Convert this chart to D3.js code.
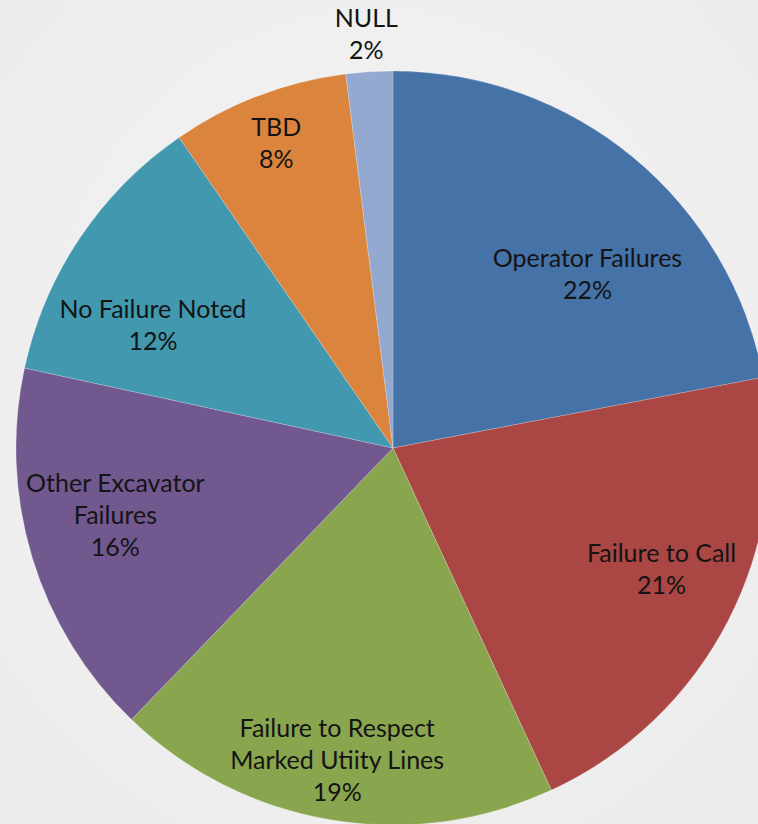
<!DOCTYPE html>
<html>
<head>
<meta charset="utf-8">
<script src="https://cdn.jsdelivr.net/npm/d3@7"></script>
<style>
  body { margin: 0; background: #efefef; }
  svg { display: block; }
</style>
</head>
<body>
<svg id="chart"></svg>
<script>
const WIDTH = 758;
const HEIGHT = 824;

// slices, clockwise from 12 o'clock
const categories = [
  "Operator Failures",
  "Failure to Call",
  "Failure to Respect Marked Utiity Lines",
  "Other Excavator Failures",
  "No Failure Noted",
  "TBD",
  "NULL"
];
const shares = [22.0, 21.1, 19.1, 16.2, 12.0, 7.6, 2.0];

// how each label is broken into lines
const labelLines = [
  ["Operator Failures"],
  ["Failure to Call"],
  ["Failure to Respect", "Marked Utiity Lines"],
  ["Other Excavator", "Failures"],
  ["No Failure Noted"],
  ["TBD"],
  ["NULL"]
];

const colors = ["#4572a7", "#aa4643", "#89a54e", "#71588f", "#4198af", "#db843d", "#93a9cf"];

// label placement: fraction of radius, angle nudge in degrees (excel best fit)
const labelRadius = [0.692, 0.782, 0.841, 0.758, 0.715, 0.865, 1.10];
const labelNudge  = [8.6, -2.8, 0.6, 3.2, -6.8, -0.1, -0.1];

const CX = 393;
const CY = 448;
const R = 377;
const LINE = 32;

function drawPie( svg ) {
    let total = d3.sum( shares );
    let pie = d3.pie().sort( null ).value( d => d );
    let arcs = pie( shares );
    let arc = d3.arc().innerRadius( 0 ).outerRadius( R );

    let g = svg.append( "g" ).attr( "transform", `translate(${CX},${CY})` );

    g.selectAll( "path" ).data( arcs ).enter()
        .append( "path" )
        .attr( "d", arc )
        .attr( "fill", (d, i) => colors[i] )
        .attr( "stroke", "#ffffff" ).attr( "stroke-opacity", 0.2 )
        .attr( "stroke-width", 1 );

    let labels = g.selectAll( "text" ).data( arcs ).enter()
        .append( "text" )
        .attr( "text-anchor", "middle" )
        .attr( "font-family", "Lato, 'Open Sans', sans-serif" )
        .attr( "font-size", 25 )
        .attr( "fill", "#141414" )
        .attr( "transform", function( d, i ) {
            let a = (d.startAngle + d.endAngle) / 2 + labelNudge[i] * Math.PI / 180;
            let r = R * labelRadius[i];
            return `translate(${r * Math.sin( a )},${-r * Math.cos( a )})`;
        } );

    labels.each( function( d, i ) {
        let lines = labelLines[i].concat( [Math.round( d.value / total * 100 ) + "%"] );
        let top = -(lines.length - 1) * LINE / 2 + 8.5;
        d3.select( this ).selectAll( "tspan" ).data( lines ).enter()
            .append( "tspan" )
            .attr( "x", 0 )
            .attr( "y", (t, k) => top + k * LINE )
            .text( t => t );
    } );
}

window.addEventListener( "load", () => {
    let svg = d3.select( "#chart" )
        .attr( "width", WIDTH )
        .attr( "height", HEIGHT );

    let defs = svg.append( "defs" );
    let grad = defs.append( "radialGradient" ).attr( "id", "bg" )
        .attr( "cx", "50%" ).attr( "cy", "45%" ).attr( "r", "75%" );
    grad.append( "stop" ).attr( "offset", "0%" ).attr( "stop-color", "#f5f5f5" );
    grad.append( "stop" ).attr( "offset", "100%" ).attr( "stop-color", "#ebebeb" );

    svg.append( "rect" ).attr( "width", WIDTH ).attr( "height", HEIGHT )
        .attr( "fill", "url(#bg)" );

    drawPie( svg );
} );
</script>
</body>
</html>
